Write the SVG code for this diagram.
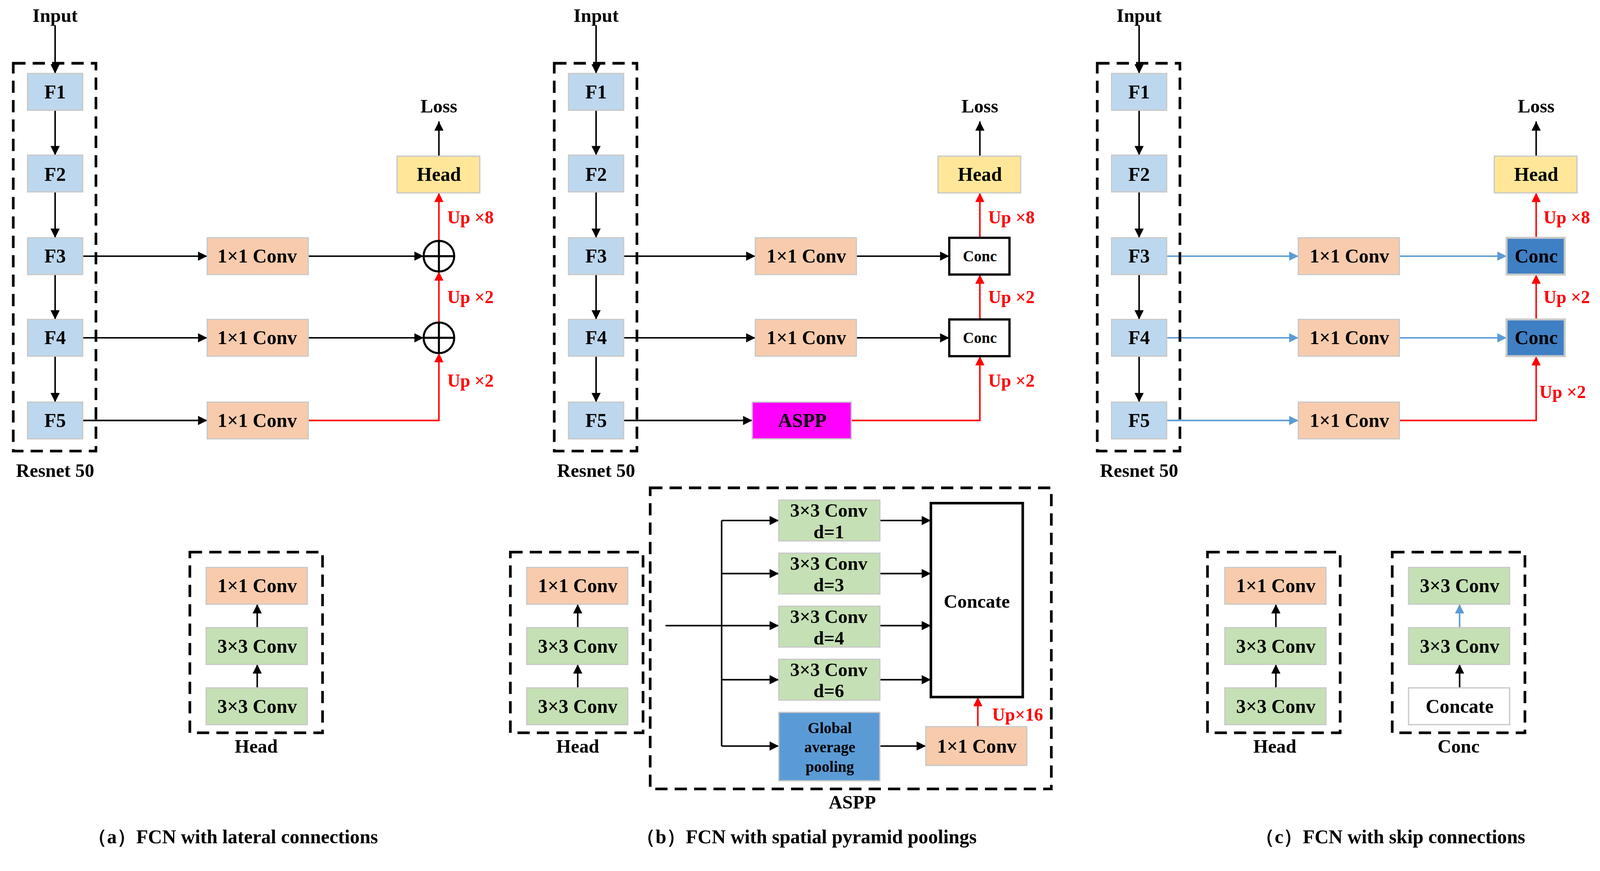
<svg xmlns="http://www.w3.org/2000/svg" width="4164" height="2230" viewBox="0 0 4164 2230">
<style>
text{font-family:"Liberation Serif","Times New Roman",serif;font-weight:bold;text-anchor:middle;dominant-baseline:central}
.t{font-size:19px}.s{font-size:15px}.c{font-size:18.5px}.cap{font-size:19px}.r{fill:#ff0000;font-size:17.5px}
.F{fill:#bdd7ee;stroke:#c9c9c9;stroke-width:1.2}
.O{fill:#f8cbad;stroke:#c9c9c9;stroke-width:1.2}
.H{fill:#ffe699;stroke:#c9c9c9;stroke-width:1.2}
.G{fill:#c5e0b4;stroke:#c9c9c9;stroke-width:1.2}
.W{fill:#fff;stroke:#c9c9c9;stroke-width:1.2}
.d{fill:none;stroke:#000;stroke-width:2.6;stroke-dasharray:12,7}
.k{fill:none;stroke:#000;stroke-width:1.5;marker-end:url(#ak)}
.kr{fill:none;stroke:#f00;stroke-width:1.5;marker-end:url(#ar)}
.kb{fill:none;stroke:#5b9bd5;stroke-width:1.5;marker-end:url(#ab)}
.cc{fill:#fff;stroke:#000;stroke-width:2.2}
</style>
<defs>
<marker id="ak" viewBox="0 0 10 10" refX="10" refY="5" markerWidth="10" markerHeight="9" markerUnits="userSpaceOnUse" orient="auto"><path d="M0,0L10,5L0,10z" fill="#000"/></marker>
<marker id="ar" viewBox="0 0 10 10" refX="10" refY="5" markerWidth="10" markerHeight="9" markerUnits="userSpaceOnUse" orient="auto"><path d="M0,0L10,5L0,10z" fill="#f00"/></marker>
<marker id="ab" viewBox="0 0 10 10" refX="10" refY="5" markerWidth="10" markerHeight="9" markerUnits="userSpaceOnUse" orient="auto"><path d="M0,0L10,5L0,10z" fill="#5b9bd5"/></marker>
</defs>
<rect width="4164" height="2230" fill="#fff"/>
<g transform="scale(2.613)">
<g id="connectors">
 <path class="k" d="M54,25V72"/><path class="k" d="M54,108V152"/><path class="k" d="M54,188V233"/><path class="k" d="M54,269V313"/><path class="k" d="M54,349V394"/>
 <path class="k" d="M81,251H203"/><path class="k" d="M81,331H203"/><path class="k" d="M81,412H203"/>
 <path class="k" d="M302,251H415"/><path class="k" d="M302,331H415"/>
 <path class="kr" d="M302,412H430V346"/><path class="kr" d="M430,316V266"/><path class="kr" d="M430,236V189"/>
 <path class="k" d="M430,153V119"/>
 <path class="k" d="M252,615V592"/><path class="k" d="M252,674V651"/>
 <path class="k" d="M584,25V72"/><path class="k" d="M584,108V152"/><path class="k" d="M584,188V233"/><path class="k" d="M584,269V313"/><path class="k" d="M584,349V394"/>
 <path class="k" d="M611,251H740"/><path class="k" d="M611,331H740"/><path class="k" d="M611,412H737"/>
 <path class="k" d="M839,251H930"/><path class="k" d="M839,331H930"/>
 <path class="kr" d="M834,412H960V349"/><path class="kr" d="M960,313V269"/><path class="kr" d="M960,233V189"/>
 <path class="k" d="M960,153V119"/>
 <path class="k" d="M566,615V592"/><path class="k" d="M566,674V651"/>
 <path fill="none" stroke="#000" stroke-width="1.5" d="M652,613H707M707,510V731"/>
 <path class="k" d="M707,510H763"/><path class="k" d="M707,562H763"/><path class="k" d="M707,613H763"/><path class="k" d="M707,666H763"/><path class="k" d="M707,731H763"/>
 <path class="k" d="M862,510H912"/><path class="k" d="M862,562H912"/><path class="k" d="M862,613H912"/><path class="k" d="M862,666H912"/><path class="k" d="M862,731H907"/>
 <path class="kr" d="M958,712V683"/>
 <path class="k" d="M1116,25V72"/><path class="k" d="M1116,108V152"/><path class="k" d="M1116,188V233"/><path class="k" d="M1116,269V313"/><path class="k" d="M1116,349V394"/>
 <path class="kb" d="M1143,251H1272"/><path class="kb" d="M1143,331H1272"/><path class="kb" d="M1143,412H1272"/>
 <path class="kb" d="M1371,251H1476"/><path class="kb" d="M1371,331H1476"/>
 <path class="kr" d="M1371,412H1505V349"/><path class="kr" d="M1505,313V269"/><path class="kr" d="M1505,233V189"/>
 <path class="k" d="M1505,153V119"/>
 <path class="k" d="M1250,615V592"/><path class="k" d="M1250,674V651"/>
 <path class="kb" d="M1430,615V592"/><path class="k" d="M1430,674V651"/>
</g>
<g id="a-labels"><text class="c" x="54" y="15">Input</text><text class="c" x="54" y="461">Resnet 50</text><text class="c" x="430" y="104">Loss</text>
<text class="r" x="461" y="213">Up ×8</text><text class="r" x="461" y="291">Up ×2</text><text class="r" x="461" y="373">Up ×2</text>
<text class="cap" x="228" y="820">（a）FCN with lateral connections</text></g>
<rect class="d" x="13" y="62" width="81" height="380"/>
<g id="a-F1"><rect class="F" x="27" y="72" width="54" height="36"/><text class="t" x="54" y="90">F1</text></g>
<g id="a-F2"><rect class="F" x="27" y="152" width="54" height="36"/><text class="t" x="54" y="171">F2</text></g>
<g id="a-F3"><rect class="F" x="27" y="233" width="54" height="36"/><text class="t" x="54" y="251">F3</text></g>
<g id="a-F4"><rect class="F" x="27" y="313" width="54" height="36"/><text class="t" x="54" y="331">F4</text></g>
<g id="a-F5"><rect class="F" x="27" y="394" width="54" height="36"/><text class="t" x="54" y="412">F5</text></g>
<g id="a-c3"><rect class="O" x="203" y="233" width="99" height="36"/><text class="t" x="252" y="251">1×1 Conv</text></g>
<g id="a-c4"><rect class="O" x="203" y="313" width="99" height="36"/><text class="t" x="252" y="331">1×1 Conv</text></g>
<g id="a-c5"><rect class="O" x="203" y="394" width="99" height="36"/><text class="t" x="252" y="412">1×1 Conv</text></g>
<g id="a-sum1" fill="none" stroke="#000" stroke-width="2"><circle cx="430" cy="251" r="15"/><path d="M415,251H445M430,236V266"/></g>
<g id="a-sum2" fill="none" stroke="#000" stroke-width="2"><circle cx="430" cy="331" r="15"/><path d="M415,331H445M430,316V346"/></g>
<g id="a-head"><rect class="H" x="389" y="153" width="81" height="36"/><text class="t" x="430" y="171">Head</text></g>
<g id="a-headlegend"><rect class="d" x="186" y="541" width="130" height="177"/>
<rect class="O" x="202" y="556" width="99" height="36"/><text class="t" x="252" y="574">1×1 Conv</text>
<rect class="G" x="202" y="615" width="99" height="36"/><text class="t" x="252" y="633">3×3 Conv</text>
<rect class="G" x="202" y="674" width="99" height="36"/><text class="t" x="252" y="692">3×3 Conv</text>
<text class="c" x="251" y="731">Head</text></g>
<g id="b-labels"><text class="c" x="584" y="15">Input</text><text class="c" x="584" y="461">Resnet 50</text><text class="c" x="960" y="104">Loss</text>
<text class="r" x="991" y="213">Up ×8</text><text class="r" x="991" y="291">Up ×2</text><text class="r" x="991" y="373">Up ×2</text>
<text class="cap" x="790" y="820">（b）FCN with spatial pyramid poolings</text></g>
<rect class="d" x="543" y="62" width="81" height="380"/>
<g id="b-F1"><rect class="F" x="557" y="72" width="54" height="36"/><text class="t" x="584" y="90">F1</text></g>
<g id="b-F2"><rect class="F" x="557" y="152" width="54" height="36"/><text class="t" x="584" y="171">F2</text></g>
<g id="b-F3"><rect class="F" x="557" y="233" width="54" height="36"/><text class="t" x="584" y="251">F3</text></g>
<g id="b-F4"><rect class="F" x="557" y="313" width="54" height="36"/><text class="t" x="584" y="331">F4</text></g>
<g id="b-F5"><rect class="F" x="557" y="394" width="54" height="36"/><text class="t" x="584" y="412">F5</text></g>
<g id="b-c3"><rect class="O" x="740" y="233" width="99" height="36"/><text class="t" x="790" y="251">1×1 Conv</text></g>
<g id="b-c4"><rect class="O" x="740" y="313" width="99" height="36"/><text class="t" x="790" y="331">1×1 Conv</text></g>
<g id="b-aspp"><rect fill="#ff00ff" stroke="#c9c9c9" stroke-width="1.2" x="737" y="394" width="97" height="36"/><text class="t" x="786" y="412">ASPP</text></g>
<g id="b-conc1"><rect class="cc" x="930" y="233" width="59" height="36"/><text class="s" x="960" y="251">Conc</text></g>
<g id="b-conc2"><rect class="cc" x="930" y="313" width="59" height="36"/><text class="s" x="960" y="331">Conc</text></g>
<g id="b-head"><rect class="H" x="919" y="153" width="81" height="36"/><text class="t" x="960" y="171">Head</text></g>
<g id="b-headlegend"><rect class="d" x="500" y="541" width="130" height="177"/>
<rect class="O" x="516" y="556" width="99" height="36"/><text class="t" x="566" y="574">1×1 Conv</text>
<rect class="G" x="516" y="615" width="99" height="36"/><text class="t" x="566" y="633">3×3 Conv</text>
<rect class="G" x="516" y="674" width="99" height="36"/><text class="t" x="566" y="692">3×3 Conv</text>
<text class="c" x="566" y="731">Head</text></g>
<g id="b-aspplegend"><rect class="d" x="637" y="478" width="393" height="295"/><text class="c" x="835" y="786">ASPP</text>
<g id="b-d1"><rect class="G" x="763" y="490" width="99" height="40"/><text class="c" x="812" y="500">3×3 Conv</text><text class="c" x="812" y="521">d=1</text></g>
<g id="b-d3"><rect class="G" x="763" y="542" width="99" height="40"/><text class="c" x="812" y="552">3×3 Conv</text><text class="c" x="812" y="573">d=3</text></g>
<g id="b-d4"><rect class="G" x="763" y="594" width="99" height="40"/><text class="c" x="812" y="604">3×3 Conv</text><text class="c" x="812" y="625">d=4</text></g>
<g id="b-d6"><rect class="G" x="763" y="646" width="99" height="40"/><text class="c" x="812" y="656">3×3 Conv</text><text class="c" x="812" y="677">d=6</text></g>
<g id="b-gap"><rect fill="#5b9bd5" stroke="#c9c9c9" stroke-width="1.2" x="763" y="698" width="99" height="67"/><text class="s" x="813" y="713">Global</text><text class="s" x="813" y="732">average</text><text class="s" x="813" y="751">pooling</text></g>
<g id="b-concate"><rect fill="#fff" stroke="#000" stroke-width="2.5" x="912" y="493" width="90" height="190"/><text class="c" x="957" y="589">Concate</text></g>
<g id="b-c1"><rect class="O" x="907" y="712" width="99" height="38"/><text class="t" x="957" y="731">1×1 Conv</text></g>
<text class="r" x="997" y="700">Up×16</text></g>
<g id="c-labels"><text class="c" x="1116" y="15">Input</text><text class="c" x="1116" y="461">Resnet 50</text><text class="c" x="1505" y="104">Loss</text>
<text class="r" x="1535" y="213">Up ×8</text><text class="r" x="1535" y="291">Up ×2</text><text class="r" x="1531" y="384">Up ×2</text>
<text class="cap" x="1362" y="820">（c）FCN with skip connections</text></g>
<rect class="d" x="1075" y="62" width="81" height="380"/>
<g id="c-F1"><rect class="F" x="1089" y="72" width="54" height="36"/><text class="t" x="1116" y="90">F1</text></g>
<g id="c-F2"><rect class="F" x="1089" y="152" width="54" height="36"/><text class="t" x="1116" y="171">F2</text></g>
<g id="c-F3"><rect class="F" x="1089" y="233" width="54" height="36"/><text class="t" x="1116" y="251">F3</text></g>
<g id="c-F4"><rect class="F" x="1089" y="313" width="54" height="36"/><text class="t" x="1116" y="331">F4</text></g>
<g id="c-F5"><rect class="F" x="1089" y="394" width="54" height="36"/><text class="t" x="1116" y="412">F5</text></g>
<g id="c-c3"><rect class="O" x="1272" y="233" width="99" height="36"/><text class="t" x="1322" y="251">1×1 Conv</text></g>
<g id="c-c4"><rect class="O" x="1272" y="313" width="99" height="36"/><text class="t" x="1322" y="331">1×1 Conv</text></g>
<g id="c-c5"><rect class="O" x="1272" y="394" width="99" height="36"/><text class="t" x="1322" y="412">1×1 Conv</text></g>
<g id="c-conc1"><rect fill="#3f7fc4" stroke="#c9c9c9" stroke-width="2" x="1476" y="233" width="57" height="36"/><text class="t" x="1505" y="251">Conc</text></g>
<g id="c-conc2"><rect fill="#3f7fc4" stroke="#c9c9c9" stroke-width="2" x="1476" y="313" width="57" height="36"/><text class="t" x="1505" y="331">Conc</text></g>
<g id="c-head"><rect class="H" x="1464" y="153" width="81" height="36"/><text class="t" x="1505" y="171">Head</text></g>
<g id="c-headlegend"><rect class="d" x="1183" y="541" width="130" height="177"/>
<rect class="O" x="1200" y="556" width="99" height="36"/><text class="t" x="1250" y="574">1×1 Conv</text>
<rect class="G" x="1200" y="615" width="99" height="36"/><text class="t" x="1250" y="633">3×3 Conv</text>
<rect class="G" x="1200" y="674" width="99" height="36"/><text class="t" x="1250" y="692">3×3 Conv</text>
<text class="c" x="1249" y="731">Head</text></g>
<g id="c-conclegend"><rect class="d" x="1364" y="541" width="130" height="177"/>
<rect class="G" x="1380" y="556" width="99" height="36"/><text class="t" x="1430" y="574">3×3 Conv</text>
<rect class="G" x="1380" y="615" width="99" height="36"/><text class="t" x="1430" y="633">3×3 Conv</text>
<rect class="W" x="1380" y="674" width="99" height="36"/><text class="t" x="1430" y="692">Concate</text>
<text class="c" x="1429" y="731">Conc</text></g>
</g>
</svg>
